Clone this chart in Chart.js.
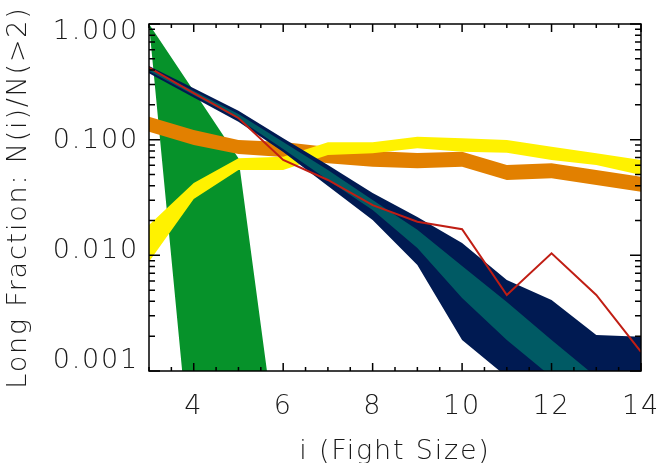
<!DOCTYPE html>
<html>
<head>
<meta charset="utf-8">
<script src="https://cdn.jsdelivr.net/npm/chart.js@4.4.1/dist/chart.umd.min.js"></script>
<style>
  html, body { margin: 0; padding: 0; background: #fff; }
  #wrap { width: 661px; height: 463px; }
</style>
</head>
<body>
<div id="wrap"><canvas id="myChart" width="661" height="463"></canvas></div>
<script>
// fight size on the x axis
const fightSize = [3, 4, 5, 6, 7, 8, 9, 10, 11, 12, 13, 14];

// green band (only the first few sizes)
const greenHi = [1.0, 0.263, 0.069, 0.00009];
const greenLo = [1.0, 0.00009, 0.00001, 0.000001];

const orangeHi = [0.158, 0.121, 0.0994, 0.0955, 0.0865, 0.0798, 0.0767, 0.0787, 0.0604, 0.0625, 0.0547, 0.0478];
const orangeLo = [0.117, 0.0899, 0.0752, 0.0708, 0.0625, 0.0584, 0.0565, 0.0584, 0.0448, 0.0464, 0.0406, 0.0355];

const yellowHi = [0.0183, 0.0422, 0.069, 0.0713, 0.0949, 0.0949, 0.1061, 0.1028, 0.0994, 0.0869, 0.0762, 0.0667];
const yellowLo = [0.0088, 0.0307, 0.0547, 0.0547, 0.0737, 0.0762, 0.0842, 0.0787, 0.0771, 0.0667, 0.0604, 0.0495];

const navyHi = [0.433, 0.278, 0.178, 0.1028, 0.0604, 0.0346, 0.0214, 0.0128, 0.00612, 0.00411, 0.00205, 0.00198];
const navyLo = [0.375, 0.232, 0.143, 0.0782, 0.0397, 0.0202, 0.00825, 0.00185, 0.00089, 0.00042, 0.0002, 0.0001];

const tealHi = [0.412, 0.264, 0.167, 0.0955, 0.0547, 0.0301, 0.0166, 0.00809, 0.00395, 0.00185, 0.00089, 0.00042];
const tealLo = [0.392, 0.243, 0.151, 0.083, 0.0448, 0.0247, 0.0116, 0.00428, 0.00185, 0.00089, 0.00042, 0.00021];

const observed = [0.42, 0.252, 0.154, 0.0667, 0.0448, 0.0272, 0.0195, 0.0168, 0.00454, 0.0104, 0.00454, 0.00146];

const xTickLabels = [4, 6, 8, 10, 12, 14];
const yTickValues = [1, 0.1, 0.01, 0.001];
const yTickLabels = ['1.000', '0.100', '0.010', '0.001'];

const colors = {
  green: 'rgb(6,146,42)',
  orange: 'rgb(226,128,0)',
  yellow: 'rgb(255,242,0)',
  navy: 'rgb(0,26,82)',
  teal: 'rgb(0,90,100)',
  red: 'rgb(192,30,20)'
};

function pts(arr) {
  return arr.map(function(v, i) { return { x: fightSize[i], y: v }; });
}

function band(hi, lo, color) {
  return [
    { data: pts(hi), fill: '+1', backgroundColor: color, borderWidth: 0, pointRadius: 0 },
    { data: pts(lo), fill: false, borderWidth: 0, pointRadius: 0 }
  ];
}

const font = { family: "'DejaVu Sans', sans-serif", size: 27, weight: 200 };
const textColor = '#1a1a1a';

// wider letter spacing, like the original plot font
const spacing = {
  id: 'spacing',
  beforeLayout(chart) { chart.ctx.letterSpacing = '1.8px'; },
  beforeDraw(chart) { chart.ctx.letterSpacing = '1.8px'; }
};

// box round the plot with inward ticks on all sides
const frame = {
  id: 'frame',
  afterDatasetsDraw(chart) {
    const ctx = chart.ctx;
    const a = chart.chartArea;
    const x = chart.scales.x;
    const y = chart.scales.y;
    ctx.save();
    ctx.strokeStyle = '#000';
    ctx.lineWidth = 1.5;
    ctx.beginPath();
    for (let v = 3; v <= 14; v += 0.5) {
      const px = x.getPixelForValue(v);
      const len = v % 2 === 0 ? 8 : 4;
      ctx.moveTo(px, a.bottom); ctx.lineTo(px, a.bottom - len);
      ctx.moveTo(px, a.top); ctx.lineTo(px, a.top + len);
    }
    for (let e = -3; e <= 0; e++) {
      for (let m = 1; m <= 9; m++) {
        const v = m * Math.pow(10, e);
        if (v > 1) break;
        const py = y.getPixelForValue(v);
        const len = m === 1 ? 11 : 6;
        ctx.moveTo(a.left, py); ctx.lineTo(a.left + len, py);
        ctx.moveTo(a.right, py); ctx.lineTo(a.right - len, py);
      }
    }
    ctx.stroke();
    ctx.strokeRect(a.left, a.top, a.right - a.left, a.bottom - a.top);
    ctx.restore();
  }
};

const datasets = [].concat(
  [{ data: pts(observed), borderColor: colors.red, borderWidth: 2, fill: false, pointRadius: 0 }],
  band(tealHi, tealLo, colors.teal),
  band(navyHi, navyLo, colors.navy),
  band(yellowHi, yellowLo, colors.yellow),
  band(orangeHi, orangeLo, colors.orange),
  band(greenHi, greenLo, colors.green)
);

const ctx = document.getElementById('myChart').getContext('2d');
const chart = new Chart(ctx, {
  type: 'line',
  data: { datasets: datasets },
  options: {
    responsive: false,
    animation: false,
    devicePixelRatio: 1,
    layout: { padding: { top: 24, right: 20, left: 0, bottom: 0 } },
    elements: { line: { tension: 0 } },
    plugins: { legend: { display: false }, tooltip: { enabled: false } },
    scales: {
      x: {
        type: 'linear',
        min: 3,
        max: 14,
        afterBuildTicks: function(axis) {
          axis.ticks = xTickLabels.map(function(v) { return { value: v }; });
        },
        afterFit: function(scale) {
          scale.height = 92;
          scale.paddingLeft = 0;
          scale.paddingRight = 0;
        },
        grid: { display: false, drawTicks: false },
        border: { display: false },
        ticks: { autoSkip: false, maxRotation: 0, padding: 20, color: textColor, font: font },
        title: { display: true, text: 'i (Fight Size)', color: textColor, font: font, padding: { top: 0, bottom: -5 } }
      },
      y: {
        type: 'logarithmic',
        min: 0.001,
        max: 1,
        display: false
      },
      yLbl: {
        type: 'logarithmic',
        position: 'left',
        min: 0.000802,
        max: 1.175,
        afterBuildTicks: function(axis) {
          axis.ticks = yTickValues.map(function(v) { return { value: v }; });
        },
        afterFit: function(scale) {
          scale.width = 149;
          scale.paddingTop = 0;
          scale.paddingBottom = 0;
        },
        grid: { display: false, drawTicks: false },
        border: { display: false },
        ticks: {
          autoSkip: false,
          padding: 10,
          color: textColor,
          font: font,
          callback: function(value) {
            const i = yTickValues.indexOf(value);
            return i >= 0 ? yTickLabels[i] : '';
          }
        },
        title: { display: true, text: 'Long Fraction: N(i)/N(>2)', color: textColor, font: font, padding: { top: 3, bottom: 0 } }
      }
    }
  },
  plugins: [spacing, frame]
});
</script>
</body>
</html>
